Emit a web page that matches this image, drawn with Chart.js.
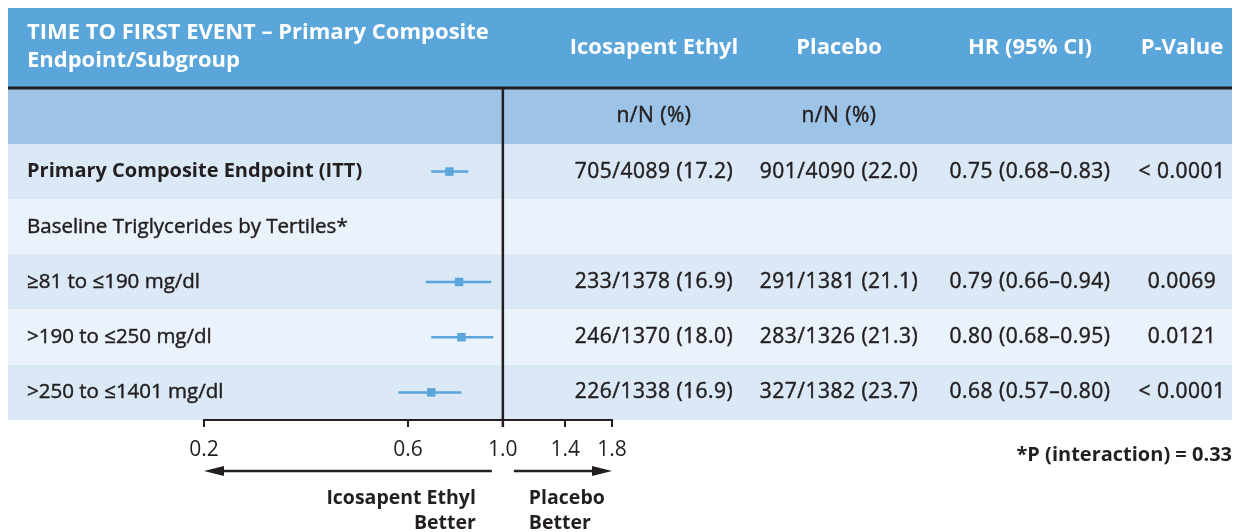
<!DOCTYPE html>
<html>
<head>
<meta charset="utf-8">
<script src="https://cdn.jsdelivr.net/npm/chart.js@4.4.1/dist/chart.umd.min.js"></script>
<style>
  html, body { margin: 0; padding: 0; background: #fff; }
</style>
</head>
<body>
<canvas id="forestChart" width="1234" height="532"></canvas>
<script>
// Table rows / forest plot data
const rowLabels = [
  'Primary Composite Endpoint (ITT)',
  'Baseline Triglycerides by Tertiles*',
  '\u226581 to \u2264190 mg/dl',
  '>190 to \u2264250 mg/dl',
  '>250 to \u22641401 mg/dl'
];
const icosapentEvents = ['705/4089 (17.2)', '', '233/1378 (16.9)', '246/1370 (18.0)', '226/1338 (16.9)'];
const placeboEvents = ['901/4090 (22.0)', '', '291/1381 (21.1)', '283/1326 (21.3)', '327/1382 (23.7)'];
const hazardRatio = [0.75, null, 0.79, 0.80, 0.68];
const ciLower = [0.68, null, 0.66, 0.68, 0.57];
const ciUpper = [0.83, null, 0.94, 0.95, 0.80];
const pValues = ['< 0.0001', '', '0.0069', '0.0121', '< 0.0001'];
const xTickValues = [0.2, 0.6, 1.0, 1.4, 1.8];

(() => {
  'use strict'

  const FONT = '"Open Sans", "Noto Sans", sans-serif';
  const INK = '#231f20';
  const BLUE = '#5aa5da';
  const tableLeft = 8;
  const tableRight = 1232;
  const headerTop = 8;
  const headerBottom = 88;
  const colCenters = [654, 839, 1030, 1182];

  const fmt = (v) => v.toFixed(2);

  // one short line dataset per confidence interval
  const ciSets = rowLabels.map((label, i) => ({
    type: 'line',
    data: hazardRatio[i] == null ? [] : [
      { x: ciLower[i], y: label },
      { x: ciUpper[i], y: label }
    ],
    borderColor: BLUE,
    borderWidth: 2.5,
    pointRadius: 0,
    showLine: true
  }));

  const pointSet = {
    type: 'scatter',
    data: rowLabels
      .map((label, i) => ({ x: hazardRatio[i], y: label }))
      .filter(p => p.x != null),
    pointStyle: 'rect',
    pointRadius: 6,
    backgroundColor: BLUE,
    borderWidth: 0
  };

  const text = (ctx, str, x, y, opts = {}) => {
    const weight = opts.weight || 400;
    ctx.font = `${weight} ${opts.size || 20.5}px ${FONT}`;
    ctx.letterSpacing = opts.spacing || '0px';
    ctx.fillStyle = opts.color || INK;
    ctx.textAlign = opts.align || 'left';
    ctx.textBaseline = 'middle';
    ctx.fillText(str, x, y);
    if (weight < 700) {
      // the source face is a touch heavier than Open Sans regular
      ctx.strokeStyle = opts.color || INK;
      ctx.lineWidth = 0.45;
      ctx.strokeText(str, x, y);
    }
    ctx.letterSpacing = '0px';
  };
  const num = { align: 'center', size: 21, spacing: '0.5px' };

  const tablePlugin = {
    id: 'forestTable',
    beforeDraw(chart) {
      const { ctx, scales: { y } } = chart;
      const band = y.getPixelForValue(1) - y.getPixelForValue(0);
      const firstTop = y.getPixelForValue(0) - band / 2;
      ctx.save();

      // header
      ctx.fillStyle = BLUE;
      ctx.fillRect(tableLeft, headerTop, tableRight - tableLeft, headerBottom - headerTop);
      ctx.fillStyle = '#9dc3e7';
      ctx.fillRect(tableLeft, headerBottom, tableRight - tableLeft, firstTop - headerBottom);

      // row stripes
      rowLabels.forEach((label, i) => {
        const top = y.getPixelForValue(i) - band / 2;
        ctx.fillStyle = i % 2 === 0 ? '#dbe8f5' : '#eaf3fb';
        ctx.fillRect(tableLeft, top, tableRight - tableLeft, band);
      });

      ctx.fillStyle = INK;
      ctx.fillRect(tableLeft, headerBottom - 1.5, tableRight - tableLeft, 3);

      // header texts
      const head = { weight: 700, size: 22, color: '#fff' };
      text(ctx, 'TIME TO FIRST EVENT \u2013 Primary Composite', 27, 33, head);
      text(ctx, 'Endpoint/Subgroup', 27, 61, head);
      ['Icosapent Ethyl', 'Placebo', 'HR (95% CI)', 'P-Value'].forEach((h, i) => {
        text(ctx, h, colCenters[i], 48, { ...head, align: 'center' });
      });
      text(ctx, 'n/N (%)', colCenters[0], 116, num);
      text(ctx, 'n/N (%)', colCenters[1], 116, num);

      // row texts
      rowLabels.forEach((label, i) => {
        const cy = y.getPixelForValue(i);
        text(ctx, label, 27, cy, i === 0 ? { weight: 700, size: 20 } : {});
        if (hazardRatio[i] == null) return;
        text(ctx, icosapentEvents[i], colCenters[0], cy, num);
        text(ctx, placeboEvents[i], colCenters[1], cy, num);
        text(ctx, `${fmt(hazardRatio[i])} (${fmt(ciLower[i])}\u2013${fmt(ciUpper[i])})`, colCenters[2], cy, num);
        text(ctx, pValues[i], colCenters[3], cy, num);
      });
      ctx.restore();
    },
    afterDraw(chart) {
      const { ctx, chartArea, scales: { x } } = chart;
      const x1 = x.getPixelForValue(1);
      const left = x.getPixelForValue(xTickValues[0]);
      const right = x.getPixelForValue(xTickValues[xTickValues.length - 1]);
      ctx.save();

      // line of no effect
      ctx.strokeStyle = INK;
      ctx.lineWidth = 2.5;
      ctx.beginPath();
      ctx.moveTo(x1, headerBottom);
      ctx.lineTo(x1, chartArea.bottom + 7);
      ctx.stroke();

      // arrows
      const ay = 471;
      const arrow = (from, to) => {
        const dir = Math.sign(to - from);
        ctx.strokeStyle = INK;
        ctx.lineWidth = 2.5;
        ctx.beginPath();
        ctx.moveTo(from, ay);
        ctx.lineTo(to - dir * 14, ay);
        ctx.stroke();
        ctx.fillStyle = INK;
        ctx.beginPath();
        ctx.moveTo(to, ay);
        ctx.lineTo(to - dir * 20, ay - 5);
        ctx.lineTo(to - dir * 20, ay + 5);
        ctx.closePath();
        ctx.fill();
      };
      arrow(x1 - 11, left);
      arrow(x1 + 11, right);

      const lab = { weight: 700, size: 19.5 };
      text(ctx, 'Icosapent Ethyl', x1 - 27, 498, { ...lab, align: 'right' });
      text(ctx, 'Better', x1 - 27, 523, { ...lab, align: 'right' });
      text(ctx, 'Placebo', x1 + 26, 498, lab);
      text(ctx, 'Better', x1 + 26, 523, lab);

      text(ctx, '*P (interaction) = 0.33', 1232, 455, { ...lab, size: 20, align: 'right' });
      ctx.restore();
    }
  };

  const ctx = document.getElementById('forestChart').getContext('2d');

  const forestChart = new Chart(ctx, {
    type: 'scatter',
    data: { datasets: [...ciSets, pointSet] },
    options: {
      responsive: false,
      animation: false,
      devicePixelRatio: 1,
      layout: { padding: { left: 204, right: 622, top: 144, bottom: 72 } },
      plugins: { legend: { display: false }, tooltip: { enabled: false } },
      scales: {
        x: {
          type: 'logarithmic',
          min: 0.2,
          max: 1.8,
          afterBuildTicks: (scale) => { scale.ticks = xTickValues.map(v => ({ value: v })); },
          afterFit: (scale) => { scale.height = 40; },
          ticks: {
            callback: (v) => Number(v).toFixed(1),
            autoSkip: false,
            maxRotation: 0,
            padding: 10,
            color: INK,
            font: { family: FONT, size: 21 }
          },
          grid: { drawOnChartArea: false, drawTicks: true, tickLength: 7, color: INK, lineWidth: 2 },
          border: { display: true, color: INK, width: 2 }
        },
        y: {
          type: 'category',
          labels: rowLabels,
          offset: true,
          display: false
        }
      }
    },
    plugins: [tablePlugin]
  });
})()
</script>
</body>
</html>
